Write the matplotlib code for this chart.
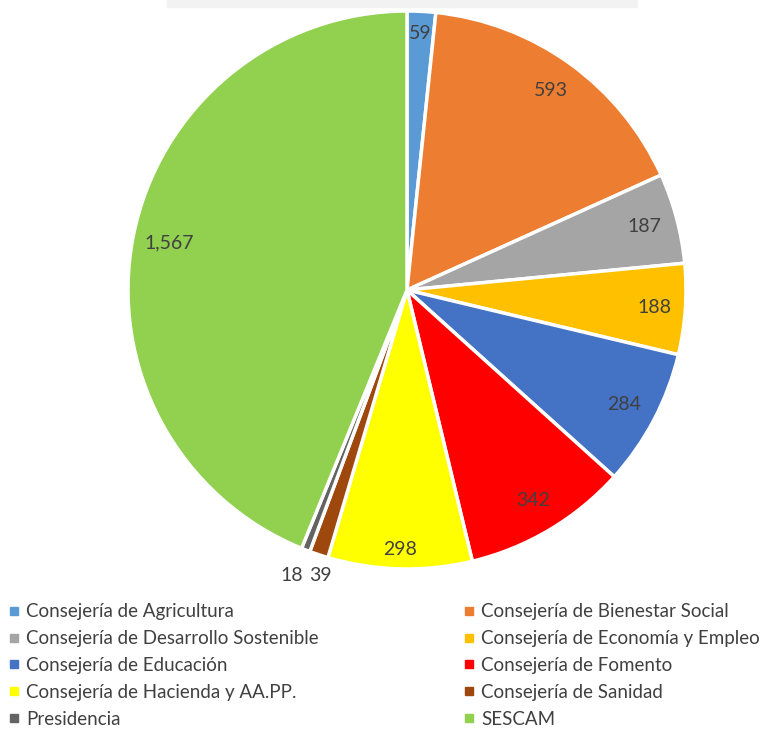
import numpy as np
import matplotlib
matplotlib.use('Agg')
from matplotlib import pyplot as plt
from matplotlib.lines import Line2D
from matplotlib.patches import Rectangle

plt.rcParams['font.family'] = ['Lato', 'DejaVu Sans']

# data
labels = ['Consejería de Agricultura', 'Consejería de Bienestar Social',
          'Consejería de Desarrollo Sostenible', 'Consejería de Economía y Empleo',
          'Consejería de Educación', 'Consejería de Fomento',
          'Consejería de Hacienda y AA.PP.', 'Consejería de Sanidad',
          'Presidencia', 'SESCAM']
values = [59, 593, 187, 188, 284, 342, 298, 39, 18, 1567]
value_text = ['59', '593', '187', '188', '284', '342', '298', '39', '18', '1,567']
colors = ['#5B9BD5', '#ED7D31', '#A5A5A5', '#FFC000', '#4472C4',
          '#FF0000', '#FFFF00', '#9E480E', '#636363', '#92D050']
# how far from the centre each data label sits (fraction of radius)
label_dist = [0.92, 0.88, 0.88, 0.89, 0.88, 0.88, 0.93, 1.08, 1.1, 0.87]
# small sideways nudge for the two crowded outside labels
label_dx = [0, 0, 0, 0, 0, 0, 0, 0.032, -0.014, 0]

W, H = 784, 731
fig = plt.figure(figsize=(W / 100, H / 100), dpi=100)

# faint title strip cut off at top
fig.patches.append(Rectangle((167 / W, 1 - 7 / H), 470 / W, 7 / H,
                             transform=fig.transFigure, color='#F2F2F2', zorder=0))

cx, cy, r = 407, 290, 279
ax = fig.add_axes([(cx - r) / W, (H - cy - r) / H, 2 * r / W, 2 * r / H])
wedges, _ = ax.pie(values, colors=colors, startangle=90, counterclock=False,
                   radius=1, wedgeprops=dict(edgecolor='white', linewidth=2.5))
ax.set_xlim(-1, 1)
ax.set_ylim(-1, 1)
ax.set_aspect('equal')
ax.axis('off')

total = sum(values)
cum = np.cumsum([0] + values[:-1])
for i, v in enumerate(values):
    mid = (cum[i] + v / 2) / total * 2 * np.pi
    d = label_dist[i]
    x, y = d * np.sin(mid) + label_dx[i], d * np.cos(mid)
    ax.text(x, y, value_text[i], ha='center', va='center', fontsize=14,
            color='#404040', clip_on=False)

# legend, filled row by row like the original
order = [0, 2, 4, 6, 8, 1, 3, 5, 7, 9]
handles = [Line2D([], [], marker='s', linestyle='none', markersize=6,
                  markerfacecolor=colors[i], markeredgecolor=colors[i]) for i in order]
fig.legend(handles, [labels[i] for i in order], ncol=2, loc='upper left',
           bbox_to_anchor=(-0.005, 1 - 590 / H), frameon=False, fontsize=13.5,
           labelcolor='#404040', handlelength=0.55, handletextpad=0.35,
           columnspacing=7.75, labelspacing=0.53, borderaxespad=0.3)

fig.savefig('out.png', dpi=100)
